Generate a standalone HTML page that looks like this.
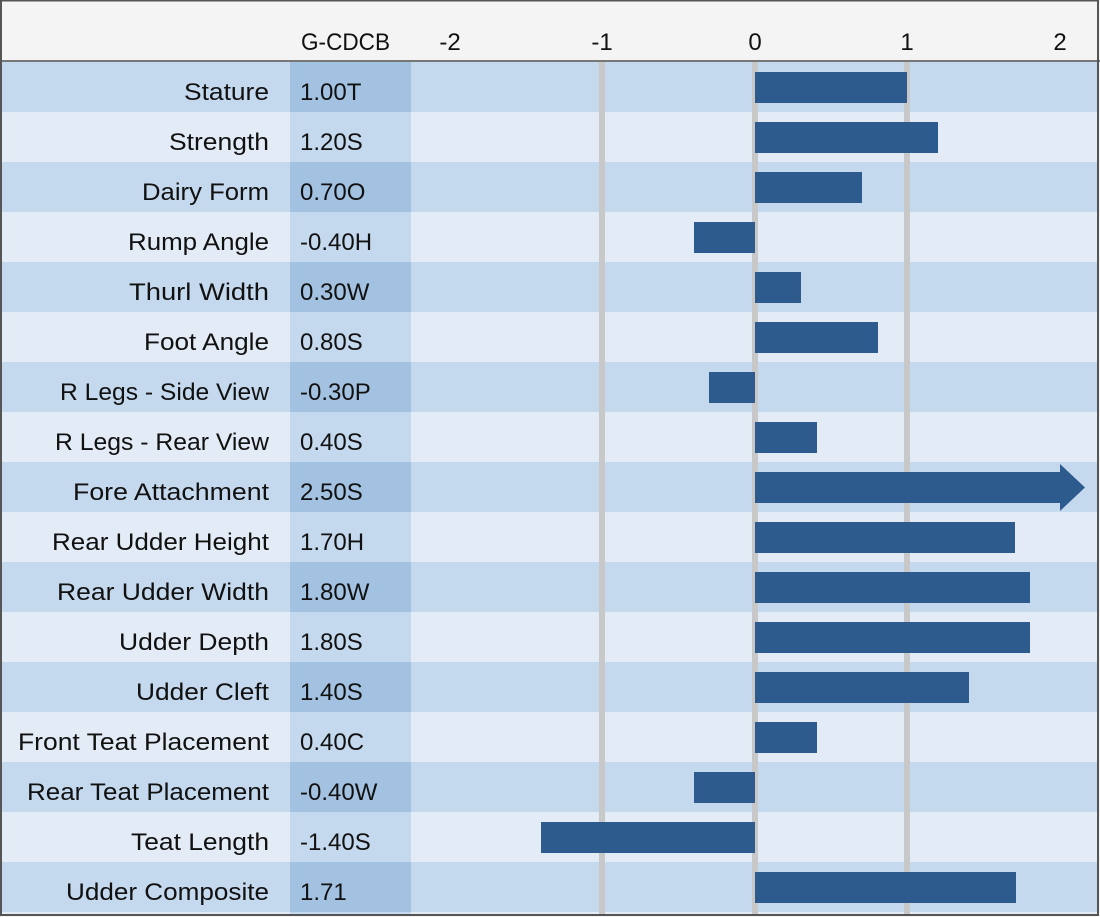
<!DOCTYPE html>
<html><head><meta charset="utf-8"><style>
html,body{margin:0;padding:0;background:#fff;}
svg{display:block;}
text{font-family:"Liberation Sans",sans-serif;font-size:24px;fill:#111;}
</style></head><body>
<svg width="1100" height="917" viewBox="0 0 1100 917">
<rect x="0" y="0" width="1100" height="917" fill="#f4f4f4"/>
<g id="rows">
<rect x="2" y="62" width="1096" height="852" fill="#e3ecf6"/>
<rect x="2" y="62" width="1096" height="50" fill="#c5d9ee"/>
<rect x="2" y="162" width="1096" height="50" fill="#c5d9ee"/>
<rect x="2" y="262" width="1096" height="50" fill="#c5d9ee"/>
<rect x="2" y="362" width="1096" height="50" fill="#c5d9ee"/>
<rect x="2" y="462" width="1096" height="50" fill="#c5d9ee"/>
<rect x="2" y="562" width="1096" height="50" fill="#c5d9ee"/>
<rect x="2" y="662" width="1096" height="50" fill="#c5d9ee"/>
<rect x="2" y="762" width="1096" height="50" fill="#c5d9ee"/>
<rect x="2" y="862" width="1096" height="50" fill="#c5d9ee"/>
<rect x="290" y="62" width="121" height="852" fill="#c5d9ee"/>
<rect x="290" y="62" width="121" height="50" fill="#a3c2e1"/>
<rect x="290" y="162" width="121" height="50" fill="#a3c2e1"/>
<rect x="290" y="262" width="121" height="50" fill="#a3c2e1"/>
<rect x="290" y="362" width="121" height="50" fill="#a3c2e1"/>
<rect x="290" y="462" width="121" height="50" fill="#a3c2e1"/>
<rect x="290" y="562" width="121" height="50" fill="#a3c2e1"/>
<rect x="290" y="662" width="121" height="50" fill="#a3c2e1"/>
<rect x="290" y="762" width="121" height="50" fill="#a3c2e1"/>
<rect x="290" y="862" width="121" height="50" fill="#a3c2e1"/>
</g>
<g fill="#c8c8c8">
<rect x="599" y="62" width="6" height="852"/>
<rect x="752" y="62" width="6" height="852"/>
<rect x="904" y="62" width="6" height="852"/>
</g>
<rect x="0" y="60" width="1100" height="2" fill="#777"/>
<g fill="#2e5b8e">
<rect x="755" y="72" width="152" height="31"/>
<rect x="755" y="122" width="183" height="31"/>
<rect x="755" y="172" width="107" height="31"/>
<rect x="694" y="222" width="61" height="31"/>
<rect x="755" y="272" width="46" height="31"/>
<rect x="755" y="322" width="123" height="31"/>
<rect x="709" y="372" width="46" height="31"/>
<rect x="755" y="422" width="62" height="31"/>
<polygon points="755,472 1060,472 1060,464 1085,487.5 1060,511 1060,503 755,503"/>
<rect x="755" y="522" width="260" height="31"/>
<rect x="755" y="572" width="275" height="31"/>
<rect x="755" y="622" width="275" height="31"/>
<rect x="755" y="672" width="214" height="31"/>
<rect x="755" y="722" width="62" height="31"/>
<rect x="694" y="772" width="61" height="31"/>
<rect x="541" y="822" width="214" height="31"/>
<rect x="755" y="872" width="261" height="31"/>
</g>
<g>
<text x="301" y="50" textLength="89" lengthAdjust="spacingAndGlyphs">G-CDCB</text>
<text x="450" y="50" text-anchor="middle">-2</text>
<text x="602" y="50" text-anchor="middle">-1</text>
<text x="755" y="50" text-anchor="middle">0</text>
<text x="907" y="50" text-anchor="middle">1</text>
<text x="1060" y="50" text-anchor="middle">2</text>
</g>
<g lengthAdjust="spacingAndGlyphs">
<text x="184" y="100" textLength="85" lengthAdjust="spacingAndGlyphs">Stature</text>
<text x="169" y="150" textLength="100" lengthAdjust="spacingAndGlyphs">Strength</text>
<text x="142" y="200" textLength="127" lengthAdjust="spacingAndGlyphs">Dairy Form</text>
<text x="128" y="250" textLength="141" lengthAdjust="spacingAndGlyphs">Rump Angle</text>
<text x="129" y="300" textLength="140" lengthAdjust="spacingAndGlyphs">Thurl Width</text>
<text x="144" y="350" textLength="125" lengthAdjust="spacingAndGlyphs">Foot Angle</text>
<text x="60" y="400" textLength="209" lengthAdjust="spacingAndGlyphs">R Legs - Side View</text>
<text x="55" y="450" textLength="214" lengthAdjust="spacingAndGlyphs">R Legs - Rear View</text>
<text x="73" y="500" textLength="196" lengthAdjust="spacingAndGlyphs">Fore Attachment</text>
<text x="52" y="550" textLength="217" lengthAdjust="spacingAndGlyphs">Rear Udder Height</text>
<text x="57" y="600" textLength="212" lengthAdjust="spacingAndGlyphs">Rear Udder Width</text>
<text x="119" y="650" textLength="150" lengthAdjust="spacingAndGlyphs">Udder Depth</text>
<text x="136" y="700" textLength="133" lengthAdjust="spacingAndGlyphs">Udder Cleft</text>
<text x="18" y="750" textLength="251" lengthAdjust="spacingAndGlyphs">Front Teat Placement</text>
<text x="27" y="800" textLength="242" lengthAdjust="spacingAndGlyphs">Rear Teat Placement</text>
<text x="131" y="850" textLength="138" lengthAdjust="spacingAndGlyphs">Teat Length</text>
<text x="66" y="900" textLength="203" lengthAdjust="spacingAndGlyphs">Udder Composite</text>
</g>
<g>
<text x="300" y="100">1.00T</text>
<text x="300" y="150">1.20S</text>
<text x="300" y="200">0.70O</text>
<text x="300" y="250">-0.40H</text>
<text x="300" y="300">0.30W</text>
<text x="300" y="350">0.80S</text>
<text x="300" y="400">-0.30P</text>
<text x="300" y="450">0.40S</text>
<text x="300" y="500">2.50S</text>
<text x="300" y="550">1.70H</text>
<text x="300" y="600">1.80W</text>
<text x="300" y="650">1.80S</text>
<text x="300" y="700">1.40S</text>
<text x="300" y="750">0.40C</text>
<text x="300" y="800">-0.40W</text>
<text x="300" y="850">-1.40S</text>
<text x="300" y="900">1.71</text>
</g>
<rect x="1" y="0.5" width="1097" height="914.5" fill="none" stroke="#555" stroke-width="2"/>
</svg>
</body></html>
